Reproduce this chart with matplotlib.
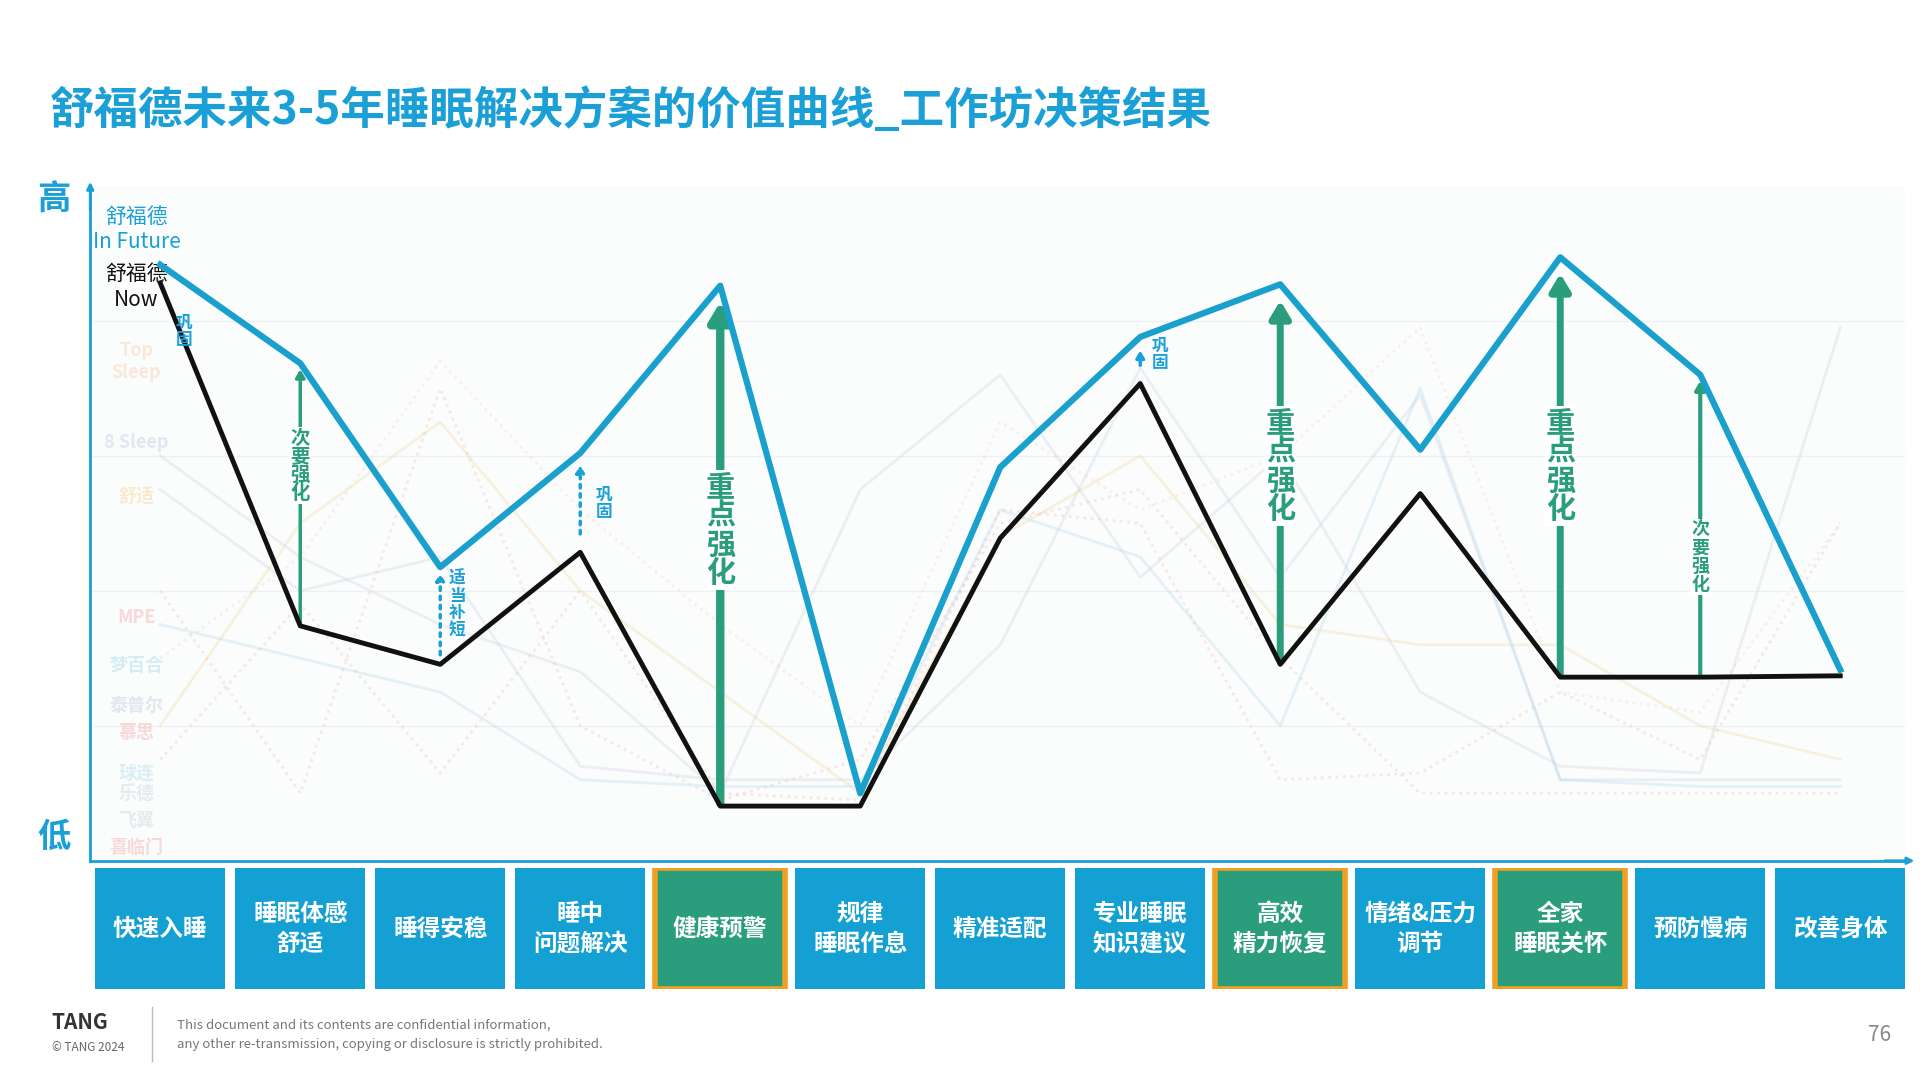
import matplotlib
matplotlib.use("Agg")
import matplotlib.pyplot as plt
from matplotlib.patches import Rectangle

plt.rcParams['font.family'] = ['Noto Sans CJK SC', 'DejaVu Sans']

categories = ["快速入睡", "睡眠体感\n舒适", "睡得安稳", "睡中\n问题解决", "健康预警", "规律\n睡眠作息",
              "精准适配", "专业睡眠\n知识建议", "高效\n精力恢复", "情绪&压力\n调节", "全家\n睡眠关怀",
              "预防慢病", "改善身体"]
highlight = [4, 8, 10]
future = [8.83, 7.37, 4.35, 6.04, 8.52, 1.0, 5.83, 7.76, 8.54, 6.09, 8.94, 7.2, 2.83]
now = [8.56, 3.48, 2.91, 4.57, 0.81, 0.81, 4.78, 7.07, 2.91, 5.44, 2.72, 2.72, 2.74]
bg_names = ["Top\nSleep", "8 Sleep", "舒适", "MPE", "梦百合", "泰普尔", "慕思", "球连", "乐德", "飞翼", "喜临门"]
bg_colors = ["#f6c9a8", "#b9c9e0", "#f3d08a", "#f2a6a6", "#9fd3ea", "#c0c8d8", "#f2a6a6", "#a8d8ea", "#c8d0d8", "#c8d0d8", "#f2a6a6"]
bg_values = [
    [3.0, 4.5, 7.4, 5.2, 3.5, 2.0, 6.5, 5.2, 6.0, 7.9, 2.5, 2.2, 5.0],
    [5.5, 4.0, 4.5, 1.4, 1.2, 1.2, 3.2, 7.3, 4.2, 6.9, 1.2, 1.2, 1.2],
    [2.0, 5.0, 6.5, 4.0, 2.5, 1.0, 4.8, 6.0, 3.5, 3.2, 3.2, 2.0, 1.5],
    [4.0, 1.0, 7.0, 2.0, 0.9, 1.5, 5.0, 5.5, 3.0, 1.0, 1.0, 1.0, 1.0],
    [3.5, 3.0, 2.5, 1.2, 1.1, 1.1, 5.2, 4.5, 2.0, 7.0, 1.2, 1.1, 1.1],
    [6.0, 4.5, 3.5, 2.8, 1.0, 5.5, 7.2, 4.2, 6.0, 2.5, 1.4, 1.3, 7.9],
    [1.5, 3.8, 1.3, 4.0, 1.0, 0.9, 5.2, 5.0, 1.2, 1.3, 2.5, 1.5, 5.0],
]

fig = plt.figure(figsize=(19.2, 10.8), dpi=100)
fig.patch.set_facecolor("white")
L, R = 0.047, 0.992
ax = fig.add_axes([L, 0.203, R - L, 0.625])
ax.set_xlim(-0.5, 12.46)
ax.set_ylim(0, 10)
ax.set_facecolor("#fbfcfc")
for s in ["top", "right"]:
    ax.spines[s].set_visible(False)
for s in ["left", "bottom"]:
    ax.spines[s].set_color("#1a9fd6")
    ax.spines[s].set_linewidth(2)
ax.set_xticks([]); ax.set_yticks([])
for y in [2, 4, 6, 8]:
    ax.axhline(y, color="#eef0f2", lw=1, zorder=0)
ax.annotate("", xy=(-0.5, 10.1), xytext=(-0.5, 9.6), annotation_clip=False,
            arrowprops=dict(arrowstyle="-|>", color="#1a9fd6", lw=2))
ax.annotate("", xy=(12.55, 0), xytext=(12.3, 0), annotation_clip=False,
            arrowprops=dict(arrowstyle="-|>", color="#1a9fd6", lw=2))

xs = list(range(len(categories)))
for i, (vals, col) in enumerate(zip(bg_values, bg_colors)):
    ax.plot(xs, vals, color=col, lw=2, alpha=0.25, ls=":" if i % 3 == 0 else "-", zorder=1)
label_y = [7.4, 6.2, 5.4, 3.6, 2.9, 2.3, 1.9, 1.3, 1.0, 0.6, 0.2]
for name, col, y in zip(bg_names, bg_colors, label_y):
    ax.text(-0.17, y, name, color=col, fontsize=13, ha="center", va="center", alpha=0.4, weight="bold")

ax.plot(xs, now, color="#111111", lw=3.5, zorder=4)
ax.plot(xs, future, color="#1aa0cc", lw=4.5, zorder=5)

ax.text(-0.17, 9.35, "舒福德\nIn Future", color="#1a9fd6", fontsize=15, ha="center", va="center")
ax.text(-0.17, 8.5, "舒福德\nNow", color="#111111", fontsize=15, ha="center", va="center")

green = "#2a9e7c"
blue = "#1a9fd6"
def arrow(i, y0, y1, col, lw, ms, ls="-"):
    ax.annotate("", xy=(i, y1), xytext=(i, y0), zorder=3,
                arrowprops=dict(arrowstyle=f"-|>,head_length={ms*0.5},head_width={ms*0.3}",
                                color=col, lw=lw, ls=ls))
arrow(1, now[1], future[1] - 0.05, green, 2.5, 0.9)
arrow(2, now[2] + 0.1, future[2] - 0.05, blue, 2.5, 0.8, ":")
arrow(3, 4.8, 5.9, blue, 2.5, 0.8, ":")
arrow(4, now[4], future[4] - 0.2, green, 6, 2.2)
arrow(7, 7.3, 7.6, blue, 2.5, 0.8)
arrow(8, now[8], future[8] - 0.2, green, 5, 2.0)
arrow(10, now[10], future[10] - 0.2, green, 5, 2.0)
arrow(11, now[11], future[11] - 0.05, green, 3, 1.0)

def vtext(x, y, s, col, fs, bg=True):
    kw = dict(bbox=dict(facecolor="white", edgecolor="none", pad=1)) if bg else {}
    ax.text(x, y, "\n".join(s), color=col, fontsize=fs, ha="center", va="center",
            weight="bold", linespacing=0.95, zorder=6, **kw)
vtext(0.17, 7.85, "巩固", blue, 12, False)
vtext(1.0, 5.85, "次要强化", green, 14)
vtext(2.12, 3.8, "适当补短", blue, 12, False)
vtext(3.17, 5.3, "巩固", blue, 12, False)
vtext(4.0, 4.9, "重点强化", green, 21)
vtext(7.14, 7.5, "巩固", blue, 12, False)
vtext(8.0, 5.85, "重点强化", green, 21)
vtext(10.0, 5.85, "重点强化", green, 21)
vtext(11.0, 4.5, "次要强化", green, 13)

fig.text(0.028, 0.815, "高", color="#1a9fd6", fontsize=24, weight="bold", ha="center", va="center")
fig.text(0.028, 0.225, "低", color="#1a9fd6", fontsize=24, weight="bold", ha="center", va="center")

bx = fig.add_axes([L, 0.084, R - L, 0.112])
bx.set_xlim(-0.5, 12.46); bx.set_ylim(0, 1); bx.axis("off")
for i, c in enumerate(categories):
    hl = i in highlight
    bx.add_patch(Rectangle((i - 0.465, 0), 0.93, 1, facecolor=green if hl else "#14a0d2",
                           edgecolor="#f0a020" if hl else "none", lw=4 if hl else 0))
    bx.text(i, 0.5, c, color="white", fontsize=17, weight="bold", ha="center", va="center", linespacing=1.3)

fig.text(0.026, 0.897, "舒福德未来3-5年睡眠解决方案的价值曲线_工作坊决策结果", color="#1a9fd6",
         fontsize=32, weight="bold", va="center")
fig.text(0.027, 0.053, "TANG", color="#333333", fontsize=15, weight="bold", va="center")
fig.text(0.027, 0.030, "© TANG 2024", color="#666666", fontsize=8.5, va="center")
fig.add_artist(plt.Line2D([0.079, 0.079], [0.018, 0.068], color="#bbbbbb", lw=1))
fig.text(0.092, 0.051, "This document and its contents are confidential information,", color="#777777", fontsize=9.5, va="center")
fig.text(0.092, 0.033, "any other re-transmission, copying or disclosure is strictly prohibited.", color="#777777", fontsize=9.5, va="center")
fig.text(0.985, 0.042, "76", color="#888888", fontsize=15, ha="right", va="center")

fig.savefig("out.png", dpi=100, facecolor="white")
